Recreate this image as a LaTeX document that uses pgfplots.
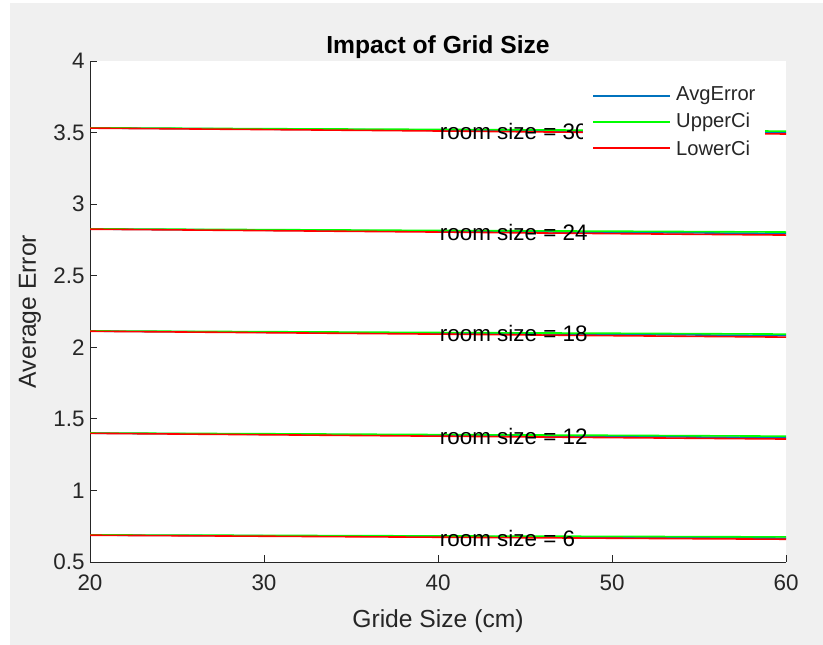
\documentclass[border=0pt]{standalone}
\usepackage{fontspec}
\setmainfont{Liberation Sans}
\usepackage{pgfplots}
\pgfplotsset{compat=1.18}
\definecolor{figbg}{rgb}{0.94,0.94,0.94}
\definecolor{axgray}{rgb}{0.15,0.15,0.15}
\definecolor{mblue}{rgb}{0,0.447,0.741}
\definecolor{cigreen}{rgb}{0,1,0}
\definecolor{cired}{rgb}{1,0,0}
\begin{document}
\begin{tikzpicture}
% figure canvas
\fill[white] (0,0) rectangle (823bp,645bp);
\fill[figbg] (10bp,0) rectangle (823bp,642bp);
\useasboundingbox (0,0) rectangle (823bp,645bp);
\begin{axis}[
  at={(90bp,83bp)}, anchor=south west,
  scale only axis, width=696bp, height=501bp,
  xmin=20, xmax=60, ymin=0.5, ymax=4,
  xtick={20,30,40,50,60},
  ytick={0.5,1,1.5,2,2.5,3,3.5,4},
  axis x line*=bottom, axis y line*=left,
  axis line style={axgray, line width=0.9bp},
  tick align=inside, major tick length=7bp,
  tick style={axgray, line width=0.9bp},
  axis background/.style={fill=white},
  /pgf/number format/assume math mode=true,
  ticklabel style={font=\fontsize{22.5}{27}\selectfont, text=axgray},
  yticklabel style={xshift=-2bp},
  xticklabel style={yshift=-9bp},
  every axis plot/.append style={line width=1.6bp},
]
% room size = 6
\addplot[mblue]   coordinates {(20,0.688) (30,0.683) (40,0.678) (50,0.672) (60,0.667)};
\addplot[cigreen] coordinates {(20,0.689) (30,0.686) (40,0.682) (50,0.679) (60,0.675)};
\addplot[cired]   coordinates {(20,0.687) (30,0.680) (40,0.673) (50,0.666) (60,0.659)};
% room size = 12
\addplot[mblue]   coordinates {(20,1.400) (30,1.392) (40,1.385) (50,1.377) (60,1.369)};
\addplot[cigreen] coordinates {(20,1.401) (30,1.396) (40,1.390) (50,1.385) (60,1.379)};
\addplot[cired]   coordinates {(20,1.399) (30,1.389) (40,1.379) (50,1.369) (60,1.359)};
% room size = 18
\addplot[mblue]   coordinates {(20,2.113) (30,2.105) (40,2.098) (50,2.090) (60,2.082)};
\addplot[cigreen] coordinates {(20,2.114) (30,2.109) (40,2.103) (50,2.098) (60,2.092)};
\addplot[cired]   coordinates {(20,2.112) (30,2.102) (40,2.092) (50,2.081) (60,2.071)};
% room size = 24
\addplot[mblue]   coordinates {(20,2.826) (30,2.818) (40,2.811) (50,2.803) (60,2.795)};
\addplot[cigreen] coordinates {(20,2.827) (30,2.822) (40,2.816) (50,2.811) (60,2.805)};
\addplot[cired]   coordinates {(20,2.825) (30,2.815) (40,2.805) (50,2.794) (60,2.784)};
% room size = 30
\addplot[mblue]   coordinates {(20,3.532) (30,3.524) (40,3.516) (50,3.508) (60,3.500)};
\addplot[cigreen] coordinates {(20,3.533) (30,3.527) (40,3.522) (50,3.516) (60,3.510)};
\addplot[cired]   coordinates {(20,3.531) (30,3.521) (40,3.511) (50,3.500) (60,3.490)};
% annotations
\begin{scope}[every node/.style={anchor=west, inner sep=0pt, font=\fontsize{22.5}{27}\selectfont}]
\node at (axis cs:40.1,0.667) {room size = 6};
\node at (axis cs:40.1,1.380) {room size = 12};
\node at (axis cs:40.1,2.093) {room size = 18};
\node at (axis cs:40.1,2.805) {room size = 24};
\node at (axis cs:40.1,3.511) {room size = 30};
\end{scope}
% legend box (no frame, white background)
\fill[white] (axis description cs:0.7085,0.958) rectangle (axis description cs:0.9698,0.796);
\draw[mblue,   line width=1.4bp] (axis description cs:0.7227,0.930) -- (axis description cs:0.8333,0.930);
\draw[cigreen, line width=1.4bp] (axis description cs:0.7227,0.878) -- (axis description cs:0.8333,0.878);
\draw[cired,   line width=1.4bp] (axis description cs:0.7227,0.826) -- (axis description cs:0.8333,0.826);
\begin{scope}[every node/.style={anchor=west, inner sep=0pt, text=axgray, font=\fontsize{20.25}{24}\selectfont}]
\node at (axis description cs:0.842,0.930) {AvgError};
\node at (axis description cs:0.842,0.878) {UpperCi};
\node at (axis description cs:0.842,0.826) {LowerCi};
\end{scope}
\end{axis}
% title and axis labels
\node[font=\bfseries\fontsize{24.75}{29}\selectfont] at (438bp,598bp) {Impact of Grid Size};
\node[font=\fontsize{24.75}{29}\selectfont, text=axgray] at (438bp,24bp) {Gride Size (cm)};
\node[font=\fontsize{24.75}{29}\selectfont, text=axgray, rotate=90] at (30bp,333.5bp) {Average Error};
\end{tikzpicture}
\end{document}
